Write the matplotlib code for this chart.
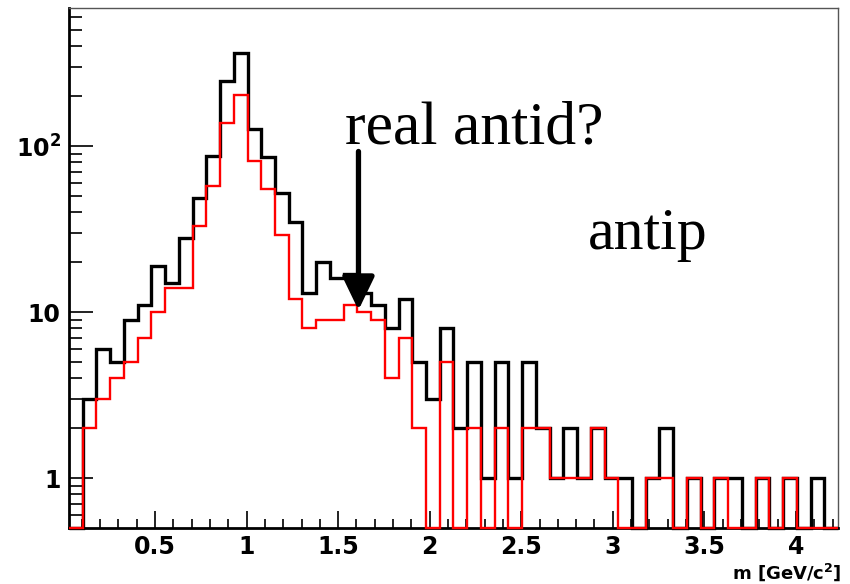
import numpy as np
import matplotlib
matplotlib.use("Agg")
import matplotlib.pyplot as plt
from matplotlib.ticker import FixedLocator, FixedFormatter, LogLocator, MultipleLocator, NullFormatter

plt.rcParams['mathtext.fontset'] = 'dejavusans'
plt.rcParams['mathtext.default'] = 'bf'

# histogram binning (GeV/c^2)
x_lo = 0.03
bin_width = 0.075
n_bins = 56

# counts per bin
counts_all = [0, 3, 6, 5, 9, 11, 19, 15, 28, 49, 87, 248, 364, 127, 86, 52,
              35, 13, 20, 16, 17, 13, 11, 8, 12, 5, 3, 8, 2, 5, 1, 5,
              1, 5, 2, 1, 2, 1, 2, 1, 1, 0, 1, 2, 0, 1, 0, 1,
              1, 0, 1, 0, 1, 0, 1, 0]
counts_sel = [0, 2, 3, 4, 5, 7, 10, 14, 14, 33, 58, 138, 204, 81, 55, 29,
              12, 8, 9, 9, 11, 10, 9, 4, 7, 2, 0, 5, 0, 2, 0, 2,
              0, 2, 2, 1, 1, 1, 2, 1, 0, 0, 1, 1, 0, 1, 0, 1,
              0, 0, 1, 0, 1, 0, 0, 0]

y_ticks = [1, 10, 100]
y_tick_labels = ['1', '10', r'$10^{2}$']
x_ticks = [0.5, 1, 1.5, 2, 2.5, 3, 3.5, 4]
x_tick_labels = ['0.5', '1', '1.5', '2', '2.5', '3', '3.5', '4']

ymin, ymax = 0.5, 680
edges = x_lo + bin_width * np.arange(n_bins + 1)

fig = plt.figure(figsize=(8.5, 5.84), dpi=100)
ax = fig.add_axes([69 / 850, 1 - 528.3 / 584, (838 - 69) / 850, (528.3 - 8) / 584])

# empty bins are drawn on the frame bottom, as ROOT does
ax.stairs(np.maximum(counts_all, ymin), edges, baseline=None, color='black', lw=2.4, clip_on=False, zorder=3)
ax.stairs(np.maximum(counts_sel, ymin), edges, baseline=None, color='#ff0000', lw=1.7, clip_on=False, zorder=4)

ax.set_yscale('log')
ax.set_xlim(edges[0], edges[-1])
ax.set_ylim(ymin, ymax)

ax.yaxis.set_major_locator(FixedLocator(y_ticks))
ax.yaxis.set_major_formatter(FixedFormatter(y_tick_labels))
ax.yaxis.set_minor_locator(LogLocator(base=10, subs=np.arange(2, 10), numticks=20))
ax.yaxis.set_minor_formatter(NullFormatter())
ax.xaxis.set_major_locator(FixedLocator(x_ticks))
ax.xaxis.set_major_formatter(FixedFormatter(x_tick_labels))
ax.xaxis.set_minor_locator(MultipleLocator(0.1))

ax.tick_params(axis='both', which='both', direction='in', top=False, right=False, width=1.4, color='#222222')
ax.tick_params(axis='y', which='major', length=17, pad=6)
ax.tick_params(axis='y', which='minor', length=9)
ax.tick_params(axis='x', which='major', length=12, pad=5)
ax.tick_params(axis='x', which='minor', length=6.5)
for lab in ax.get_xticklabels() + ax.get_yticklabels():
    lab.set_fontsize(17)
    lab.set_fontweight('bold')
    lab.set_family('DejaVu Sans')

ax.spines['left'].set_linewidth(2)
ax.spines['bottom'].set_linewidth(2)
for s in ['top', 'right']:
    ax.spines[s].set_linewidth(1)
    ax.spines[s].set_color('#555555')

fig.text(841 / 850, 1 - 579 / 584, r'm [GeV/c$^{2}$]', ha='right', va='baseline',
         fontsize=13, fontweight='bold', family='DejaVu Sans')

fig.text(345 / 850, 1 - 143.3 / 584, 'real antid?', ha='left', va='baseline',
         fontsize=44.5, family='Liberation Serif')
fig.text(588 / 850, 1 - 249.3 / 584, 'antip', ha='left', va='baseline',
         fontsize=43, family='Liberation Serif')

ax.annotate('', xy=(1.611, 10.3), xytext=(1.611, 93),
            arrowprops=dict(arrowstyle='-|>,head_length=1.35,head_width=0.65', lw=3.8,
                            color='black', mutation_scale=15, shrinkA=0, shrinkB=0),
            zorder=6)

fig.savefig('out.png', dpi=100)
